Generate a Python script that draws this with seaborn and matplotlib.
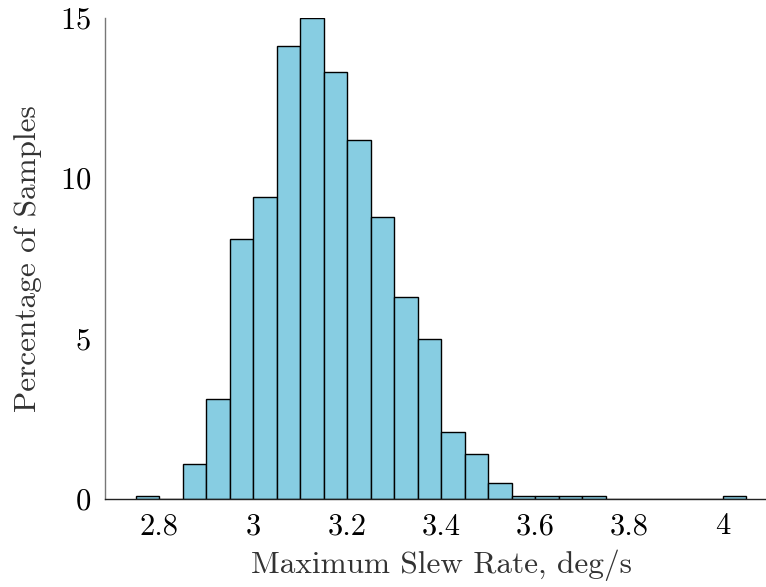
import matplotlib
matplotlib.use("Agg")
import matplotlib.pyplot as plt
import seaborn as sns
import pandas as pd

# histogram bins (left edges, width 0.05) and percentage of samples in each
bin_left = [2.75, 2.80, 2.85, 2.90, 2.95, 3.00, 3.05, 3.10, 3.15, 3.20,
            3.25, 3.30, 3.35, 3.40, 3.45, 3.50, 3.55, 3.60, 3.65, 3.70,
            3.75, 3.80, 3.85, 3.90, 3.95, 4.00]
percent = [0.1, 0.0, 1.1, 3.1, 8.1, 9.4, 14.1, 15.0, 13.3, 11.2,
           8.8, 6.3, 5.0, 2.1, 1.4, 0.5, 0.1, 0.1, 0.1, 0.1,
           0.0, 0.0, 0.0, 0.0, 0.0, 0.1]
bin_width = 0.05
x_ticks = [2.8, 3.0, 3.2, 3.4, 3.6, 3.8, 4.0]
x_tick_labels = ["2.8", "3", "3.2", "3.4", "3.6", "3.8", "4"]
y_ticks = [0, 5, 10, 15]

sns.set_theme(style="white")
plt.rcParams["font.family"] = ["cmr10", "DejaVu Serif"]
plt.rcParams["axes.formatter.use_mathtext"] = True

df = pd.DataFrame({"center": [b + bin_width / 2 for b in bin_left],
                   "pct": percent})
edges = bin_left + [bin_left[-1] + bin_width]

fig = plt.figure(figsize=(7.66, 5.87), dpi=100)
ax = fig.add_axes([0.137, 0.150, 0.878, 0.820])

sns.histplot(data=df, x="center", weights="pct", bins=edges, ax=ax,
             color="#87cde2", alpha=1.0, edgecolor="black", linewidth=1.0)

ax.set_xlim(2.684, 4.116)
ax.set_ylim(0, 15)
ax.set_xticks(x_ticks)
ax.set_xticklabels(x_tick_labels)
ax.set_yticks(y_ticks)

ax.tick_params(axis="both", direction="in", length=6, width=0.9,
               color="#999999", labelsize=22, labelcolor="black", pad=10)

for s in ["top", "right"]:
    ax.spines[s].set_visible(False)
ax.spines["left"].set_color("#777777")
ax.spines["left"].set_linewidth(1.0)
ax.spines["bottom"].set_color("#222222")
ax.spines["bottom"].set_linewidth(1.0)

ax.set_xlabel("Maximum Slew Rate, deg/s", fontsize=22.5, color="#333333",
              labelpad=7)
ax.set_ylabel("Percentage of Samples", fontsize=22.5, color="#333333",
              labelpad=13)

fig.savefig("out.png", dpi=100)
